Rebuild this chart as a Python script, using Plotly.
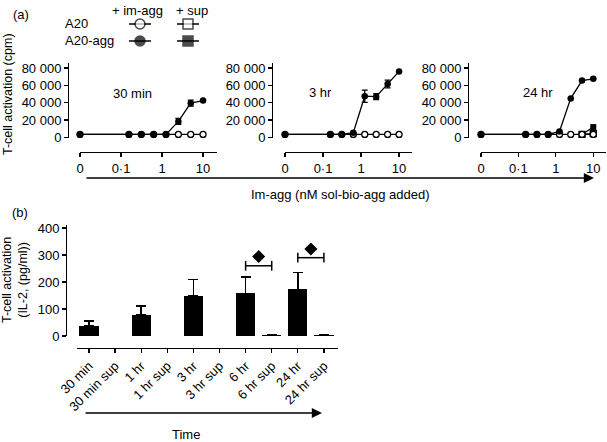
import math
import plotly.graph_objects as go

W, H = 607, 442

# ---------------- data: panel (a) ----------------
conc = [0, 0.156, 0.3125, 0.625, 1.25, 2.5, 5, 10]          # nM sol-bio-agg added
x_tick_vals = [0, 0.1, 1, 10]
x_tick_text = ['0', '0·1', '1', '10']
y_tick_vals = [0, 20000, 40000, 60000, 80000]
y_tick_text = ['0', '20 000', '40 000', '60 000', '80 000']
panel_titles = ['30 min', '3 hr', '24 hr']

a20_imagg = [
    [3500, 3500, 3500, 3500, 3500, 3500, 3500, 3500],
    [3500, 3500, 3500, 3500, 3500, 3500, 3500, 3500],
    [3500, 3500, 3500, 3500, 3500, 3500, 3500, 3500],
]
a20agg_imagg = [
    [3500, 3500, 3500, 3500, 3500, 18500, 39500, 42500],
    [3500, 3500, 3500, 5500, 47500, 47000, 61500, 76000],
    [3500, 3500, 3500, 3500, 7000, 45000, 65500, 67500],
]
a20agg_imagg_err = [
    [0, 0, 0, 0, 0, 3500, 3500, 0],
    [0, 0, 0, 0, 7000, 3500, 4500, 0],
    [0, 0, 0, 0, 0, 0, 0, 0],
]
sup_conc = [5, 10]
a20_sup_24 = [3500, 4500]
a20agg_sup_24 = [3500, 12000]

# ---------------- data: panel (b) ----------------
times = ['30 min', '30 min sup', '1 hr', '1 hr sup', '3 hr', '3 hr sup',
         '6 hr', '6 hr sup', '24 hr', '24 hr sup']
il2 = [37, None, 77, None, 148, None, 158, 4, 173, 3]
il2_err = [18, None, 35, None, 62, None, 60, None, 63, None]
il2_ticks = [0, 100, 200, 300, 400]
sig_pairs = [('6 hr', '6 hr sup', 260, 294), ('24 hr', '24 hr sup', 290, 322)]


def pos(c):
    return math.log10(c) if c > 0 else -2.0


def px(x):
    return x / W


def py(y):
    return 1 - y / H


FONT = 'Liberation Sans, Arial, sans-serif'
LW = 1.3

fig = go.Figure()

axis_common = dict(showgrid=False, zeroline=False, showline=True, linecolor='black',
                   linewidth=LW, ticks='outside', ticklen=4, tickwidth=LW,
                   tickcolor='black', automargin=False,
                   tickfont=dict(size=13, family=FONT, color='black'))

x_domains = [(80, 217), (285, 412), (481, 606)]
y_axis_x = [68, 272, 468]
title_pos = [(132, 93), (321, 92), (538, 92)]

for i in range(3):
    xa = 'x' if i == 0 else f'x{i+1}'
    ya = 'y' if i == 0 else f'y{i+1}'
    xs = [pos(c) for c in conc]
    if i == 2:
        sx = [pos(c) for c in sup_conc]
        fig.add_trace(go.Scatter(x=sx, y=a20agg_sup_24, xaxis=xa, yaxis=ya, mode='lines+markers',
                                 line=dict(color='black', width=LW),
                                 marker=dict(symbol='square', size=6, color='black'),
                                 cliponaxis=False))
        fig.add_trace(go.Scatter(x=sx, y=a20_sup_24, xaxis=xa, yaxis=ya, mode='lines+markers',
                                 line=dict(color='black', width=LW),
                                 marker=dict(symbol='square', size=6, color='white',
                                             line=dict(color='black', width=LW)),
                                 cliponaxis=False))
    fig.add_trace(go.Scatter(x=xs, y=a20_imagg[i], xaxis=xa, yaxis=ya, mode='lines+markers',
                             line=dict(color='black', width=LW),
                             marker=dict(symbol='circle', size=6, color='white',
                                         line=dict(color='black', width=LW)),
                             cliponaxis=False))
    err = a20agg_imagg_err[i]
    fig.add_trace(go.Scatter(x=xs, y=a20agg_imagg[i], xaxis=xa, yaxis=ya, mode='lines+markers',
                             line=dict(color='black', width=LW),
                             marker=dict(symbol='circle', size=6.5, color='black'),
                             error_y=dict(type='data', array=err, visible=True, color='black',
                                          thickness=LW, width=3),
                             cliponaxis=False))
    xd = x_domains[i]
    fig.layout[('xaxis' if i == 0 else f'xaxis{i+1}')] = dict(
        axis_common, domain=[px(xd[0]), px(xd[1])], range=[-2, 1.34], anchor='free',
        position=py(152), tickvals=[pos(v) for v in x_tick_vals], ticktext=x_tick_text)
    fig.layout[('yaxis' if i == 0 else f'yaxis{i+1}')] = dict(
        axis_common, domain=[py(137.5), py(63)], range=[0, 85700], anchor='free',
        position=px(y_axis_x[i]), tickvals=y_tick_vals, ticktext=y_tick_text)

# ---------------- panel (b) bars ----------------
idx = list(range(len(times)))
fig.add_trace(go.Bar(x=idx, y=il2, xaxis='x4', yaxis='y4', width=0.74,
                     marker=dict(color='black', line=dict(width=0)),
                     error_y=dict(type='data', array=il2_err,
                                  arrayminus=[0] * len(il2_err), symmetric=False,
                                  visible=True, color='black', thickness=1.5, width=5)))
for a, b, ybr, ydm in sig_pairs:
    ia, ib = times.index(a), times.index(b)
    fig.add_trace(go.Scatter(x=[ia, ib], y=[ybr, ybr], xaxis='x4', yaxis='y4',
                             mode='lines+markers', line=dict(color='black', width=1.5),
                             marker=dict(symbol='line-ns-open', size=7,
                                         line=dict(color='black', width=1.5)),
                             cliponaxis=False))
    fig.add_trace(go.Scatter(x=[(ia + ib) / 2], y=[ydm], xaxis='x4', yaxis='y4',
                             mode='markers', marker=dict(symbol='diamond', size=10, color='black'),
                             cliponaxis=False))

fig.layout['xaxis4'] = dict(axis_common, domain=[px(77), px(338)], range=[-0.46, 9.54],
                            anchor='free', position=py(348), tickvals=idx, ticktext=times,
                            tickangle=-45)
fig.layout['yaxis4'] = dict(axis_common, domain=[py(336), py(225)], range=[0, 411],
                            anchor='free', position=px(66), tickvals=il2_ticks)

# ---------------- legend (hidden overlay axis in pixel units) ----------------
fig.layout['xaxis5'] = dict(domain=[0, 1], range=[0, W], visible=False, fixedrange=True,
                            automargin=False)
fig.layout['yaxis5'] = dict(domain=[0, 1], range=[H, 0], visible=False, fixedrange=True,
                            automargin=False)
leg = [
    (140, 24, 'circle', 'white'), (188, 24, 'square', 'white'),
    (140, 41, 'circle', 'black'), (188, 41, 'square', 'black'),
]
for cx, cy, sym, fill in leg:
    fig.add_trace(go.Scatter(x=[cx - 11, cx, cx + 11], y=[cy, cy, cy], xaxis='x5', yaxis='y5',
                             mode='lines+markers', line=dict(color='black', width=1.5),
                             marker=dict(symbol=sym, size=[0, 10, 0], color=fill,
                                         line=dict(color='black', width=1.5)),
                             cliponaxis=False, hoverinfo='skip'))

ann = []


def text(x, y, t, size=13, angle=0, xanchor='center'):
    ann.append(dict(x=px(x), y=py(y), xref='paper', yref='paper', text=t, showarrow=False,
                    textangle=angle, xanchor=xanchor, yanchor='middle',
                    font=dict(size=size, family=FONT, color='black')))


text(21, 14, '(a)')
text(137, 10, '+ im-agg')
text(192, 10, '+ sup')
text(63, 23, 'A20', xanchor='left')
text(63, 40, 'A20-agg', xanchor='left')
for (tx, ty), t in zip(title_pos, panel_titles):
    text(tx, ty, t)
text(8, 94, 'T-cell activation (cpm)', size=12.5, angle=-90)
text(340, 194, 'Im-agg (nM sol-bio-agg added)')
text(20, 212, '(b)')
text(15, 280, 'T-cell activation<br>(IL-2, (pg/ml))', size=12.5, angle=-90)
text(186, 434, 'Time')

# arrows (in the pixel-unit overlay axis)
for x0, x1, y in [(85, 594, 178), (84, 322, 413)]:
    ann.append(dict(x=x1, y=y, ax=x0, ay=y, xref='x5', yref='y5',
                    axref='x5', ayref='y5', text='', showarrow=True, arrowhead=2,
                    arrowsize=1.2, arrowwidth=1.7, arrowcolor='black'))

fig.update_layout(width=W, height=H, margin=dict(l=0, r=0, t=0, b=0, autoexpand=False),
                  paper_bgcolor='white', plot_bgcolor='rgba(0,0,0,0)', showlegend=False,
                  font=dict(family=FONT, size=13, color='black'), annotations=ann,
                  bargap=0, hovermode=False)

fig.write_html('out.html', config={'displayModeBar': False, 'staticPlot': True},
               post_script="document.body.style.margin='0px';document.body.style.overflow='hidden';")
